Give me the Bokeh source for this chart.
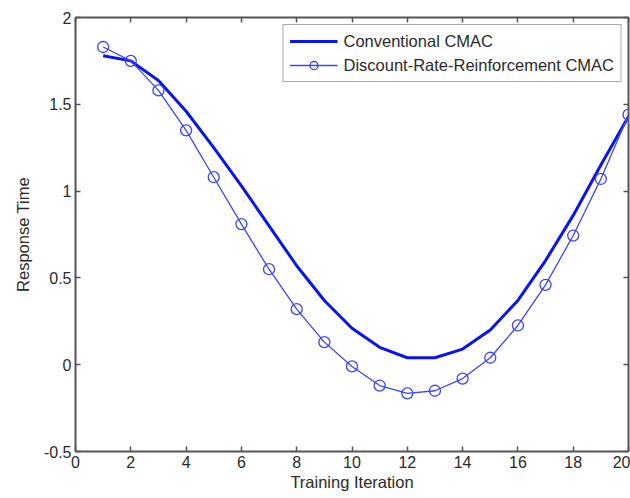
from bokeh.plotting import figure
from bokeh.models import (LinearAxis, FixedTicker, CustomJSTickFormatter, Legend, LegendItem, Range1d)
from bokeh.embed import file_html
from bokeh.resources import INLINE

iterations = list(range(1, 21))
conventional = [1.78, 1.75, 1.637, 1.46, 1.25, 1.03, 0.80, 0.57, 0.37, 0.21, 0.10, 0.04, 0.04, 0.09, 0.20, 0.37, 0.60, 0.86, 1.15, 1.43]
discount = [1.83, 1.75, 1.58, 1.35, 1.08, 0.81, 0.55, 0.32, 0.13, -0.01, -0.12, -0.165, -0.15, -0.08, 0.04, 0.226, 0.46, 0.744, 1.07, 1.44]
x_ticks = [0, 2, 4, 6, 8, 10, 12, 14, 16, 18, 20]
y_ticks = [-0.5, 0, 0.5, 1, 1.5, 2]

FONT = "Liberation Sans"
TXT = "#2a2a2a"
AX = "#555555"

p = figure(width=630, height=498, output_backend="svg", toolbar_location=None,
           x_range=Range1d(0, 20), y_range=Range1d(-0.5, 2),
           min_border_left=75, min_border_top=17, min_border_right=2, min_border_bottom=47)
p.xgrid.visible = False
p.ygrid.visible = False
p.outline_line_color = None

fmt = CustomJSTickFormatter(code="return String(tick);")
blank = CustomJSTickFormatter(code="return '';")

for ax, ticks in ((p.xaxis[0], x_ticks), (p.yaxis[0], y_ticks)):
    ax.ticker = FixedTicker(ticks=ticks)
    ax.formatter = fmt
    ax.major_tick_in = 5
    ax.major_tick_out = 0
    ax.minor_tick_line_color = None
    ax.axis_line_color = AX
    ax.axis_line_width = 2
    ax.major_tick_line_color = AX
    ax.major_tick_line_width = 1.5
    ax.major_label_text_font = FONT
    ax.major_label_text_font_size = "16px"
    ax.major_label_text_color = TXT
    ax.axis_label_text_font = FONT
    ax.axis_label_text_font_size = "16.5px"
    ax.axis_label_text_font_style = "normal"
    ax.axis_label_text_color = TXT

p.xaxis[0].axis_label = "Training Iteration"
p.yaxis[0].axis_label = "Response Time"
p.xaxis[0].major_label_standoff = 4
p.yaxis[0].major_label_standoff = 4
p.xaxis[0].axis_label_standoff = 2
p.yaxis[0].axis_label_standoff = 9

for loc, ticks in (("above", x_ticks), ("right", y_ticks)):
    ax = LinearAxis(ticker=FixedTicker(ticks=ticks), formatter=blank,
                    major_label_standoff=0, major_tick_in=5, major_tick_out=0,
                    minor_tick_line_color=None, axis_line_color=AX, axis_line_width=2,
                    major_tick_line_color=AX, major_tick_line_width=1.5)
    p.add_layout(ax, loc)

r1 = p.line(iterations, conventional, line_color="#0a14f0", line_width=3)
r2 = p.line(iterations, discount, line_color="#3a44ff", line_width=1.3)
r3 = p.scatter(iterations, discount, marker="circle", size=11, fill_color=None,
               line_color="#3a44ff", line_width=1.3)

legend = Legend(items=[LegendItem(label="Conventional CMAC", renderers=[r1]),
                       LegendItem(label="Discount-Rate-Reinforcement CMAC", renderers=[r2, r3])],
                location="top_right", margin=7, padding=6, spacing=4,
                glyph_width=48, glyph_height=20, label_height=20, label_standoff=6,
                label_text_font=FONT, label_text_font_size="16.5px", label_text_color=TXT,
                border_line_color=AX, border_line_width=1.5, background_fill_alpha=1)
p.add_layout(legend)

open("out.html", "w").write(file_html(p, INLINE))
